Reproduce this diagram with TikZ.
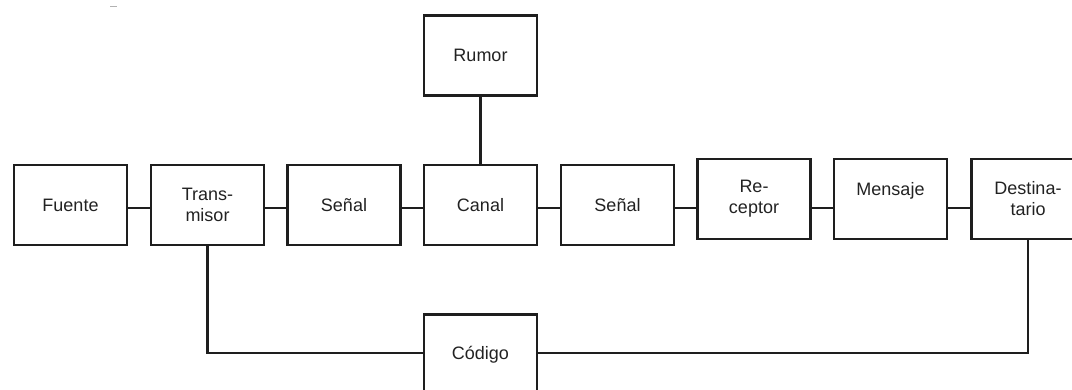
\documentclass[tikz,border=0pt]{standalone}
\usepackage{fontspec}
\setmainfont{Liberation Sans}
\definecolor{ink}{HTML}{1E1E1E}
\definecolor{txt}{HTML}{222222}
\begin{document}
\begin{tikzpicture}[x=1pt,y=-1pt,
  box/.style={draw=ink, line width=2.2pt, minimum width=113pt, minimum height=80pt,
              inner sep=0pt, align=center, text=txt,
              font=\fontsize{18}{21}\selectfont},
  link/.style={draw=ink, line width=2.2pt}]
\useasboundingbox (0,0) rectangle (1072,390);
\clip (0,0) rectangle (1072,390);

% small mark near the top edge
\draw[gray!60, line width=1.5pt] (110,6.5) -- (117,6.5);

% main chain
\node[box] (fuente)   at (70.5,205)  {Fuente};
\node[box] (trans)    at (207.5,205) {Trans-\\misor};
\node[box] (senal1)   at (344,205)   {Señal};
\node[box] (canal)    at (480.5,205) {Canal};
\node[box] (senal2)   at (617.5,205) {Señal};
\node[box] (receptor) at (754,199)   {Re-\\ceptor};
\node[box] (mensaje)  at (890.5,199) {Mensaje\\\mbox{}};
\node[box] (dest)     at (1028,199)  {Destina-\\tario};

% noise and code
\node[box] (rumor)  at (480.5,55.5)  {Rumor};
\node[box] (codigo) at (480.5,354.5) {Código};

% connector levels
\coordinate (spine) at (0,208);
\coordinate (codeline) at (0,353);

\draw[link] (fuente.east |- spine)   -- (trans.west |- spine);
\draw[link] (trans.east |- spine)    -- (senal1.west |- spine);
\draw[link] (senal1.east |- spine)   -- (canal.west |- spine);
\draw[link] (canal.east |- spine)    -- (senal2.west |- spine);
\draw[link] (senal2.east |- spine)   -- (receptor.west |- spine);
\draw[link] (receptor.east |- spine) -- (mensaje.west |- spine);
\draw[link] (mensaje.east |- spine)  -- (dest.west |- spine);

\draw[link] (rumor.south) -- (canal.north);
\draw[link] (trans.south) |- (codigo.west |- codeline);
\draw[link] (codigo.east |- codeline) -| (dest.south);
\end{tikzpicture}
\end{document}
